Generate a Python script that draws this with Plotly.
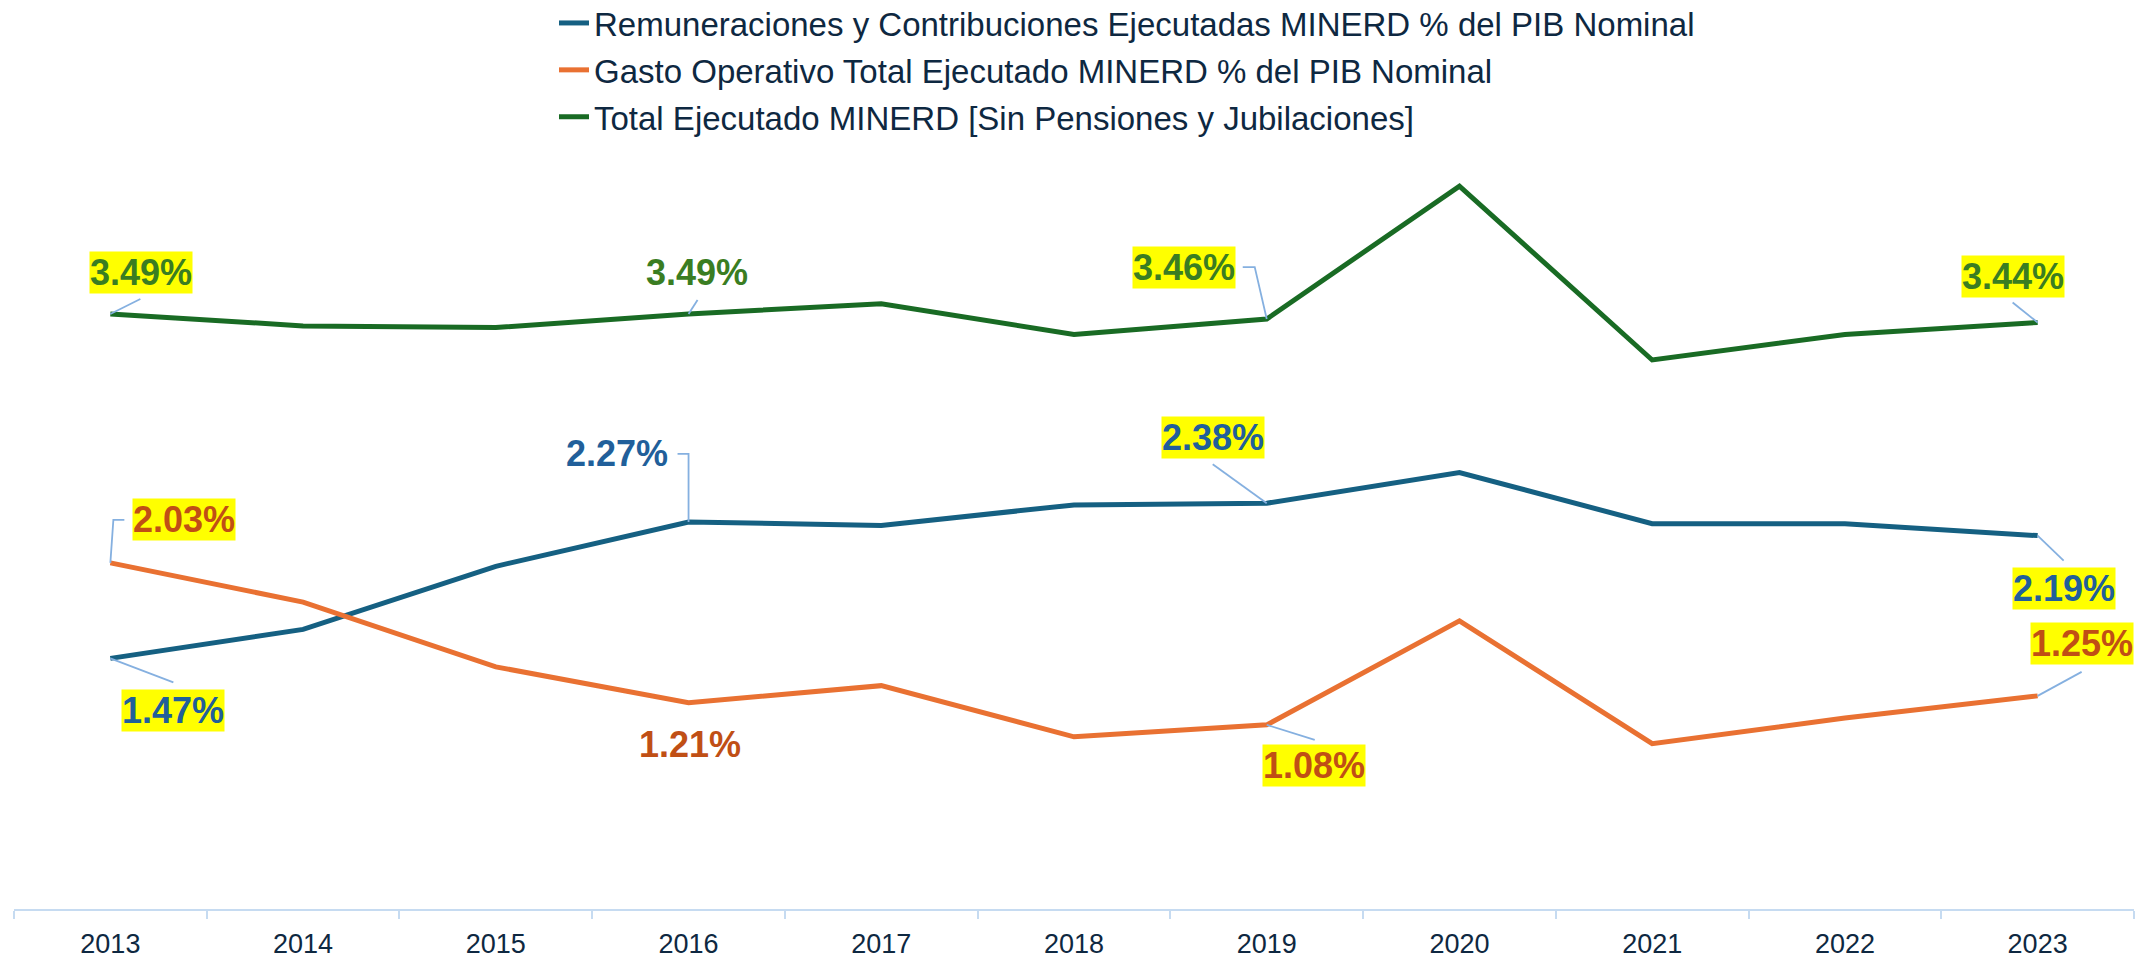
import plotly.graph_objects as go

years = ["2013", "2014", "2015", "2016", "2017", "2018", "2019", "2020", "2021", "2022", "2023"]
remuneraciones = [1.47, 1.64, 2.01, 2.27, 2.25, 2.37, 2.38, 2.56, 2.26, 2.26, 2.19]
gasto_operativo = [2.03, 1.80, 1.42, 1.21, 1.31, 1.01, 1.08, 1.69, 0.97, 1.12, 1.25]
total_ejecutado = [3.49, 3.42, 3.41, 3.49, 3.55, 3.37, 3.46, 4.24, 3.22, 3.37, 3.44]

names = [
    "Remuneraciones y Contribuciones Ejecutadas MINERD % del PIB Nominal",
    "Gasto Operativo Total Ejecutado MINERD % del PIB Nominal",
    "Total Ejecutado MINERD [Sin Pensiones y Jubilaciones]",
]

series = {"remun": remuneraciones, "gasto": gasto_operativo, "total": total_ejecutado}
line_colors = {"remun": "#156082", "gasto": "#E97132", "total": "#196B24"}
label_colors = {"remun": "#215F9A", "gasto": "#C04F15", "total": "#3A7D22"}

# label placement: (series, year, xshift px, yshift px, highlighted, leader path in px)
labels = [
    ("total", "2013", 31, 41, True, "M0,0 L30,15"),
    ("total", "2016", 8, 41, False, "M0,0 L9,14"),
    ("total", "2019", -83, 52, True, "M0,0 L-12,52 L-24,52"),
    ("total", "2023", -25, 46, True, "M0,0 L-25,20"),
    ("remun", "2013", 63, -52, True, "M0,0 L63,-24"),
    ("remun", "2016", -72, 68, False, "M0,0 L0,68 L-11,68"),
    ("remun", "2019", -54, 66, True, "M0,0 L-54,39"),
    ("remun", "2023", 26, -53, True, "M0,0 L26,-25"),
    ("gasto", "2013", 74, 43, True, "M0,0 L3,43 L14,43"),
    ("gasto", "2016", 1, -42, False, None),
    ("gasto", "2019", 47, -41, True, "M0,0 L48,-15"),
    ("gasto", "2023", 44, 52, True, "M0,0 L44,24"),
]

FONT = "Liberation Sans, Arial, sans-serif"
TOP, BOTTOM = 150, 53
PLOT_H = 962 - TOP - BOTTOM
PX_PER_UNIT = 170.5

fig = go.Figure()
for key, name in zip(["remun", "gasto", "total"], names):
    fig.add_trace(go.Scatter(
        x=years, y=series[key], mode="lines", name=name,
        legendgroup=key,
        line=dict(color=line_colors[key], width=5),
        hoverinfo="skip",
    ))

annotations = []
shapes = []
for key, yr, xs, ys, boxed, path in labels:
    i = years.index(yr)
    v = series[key][i]
    annotations.append(dict(
        x=i, y=v, xref="x", yref="y", text=f"<b>{v:.2f}%</b>", showarrow=False,
        xshift=xs, yshift=ys,
        font=dict(family=FONT, size=36, color=label_colors[key]),
        bgcolor="#FFFF00" if boxed else "rgba(0,0,0,0)", borderpad=0,
    ))
    if path:
        shapes.append(dict(
            type="path", xref="x", yref="y", xsizemode="pixel", ysizemode="pixel",
            xanchor=i, yanchor=v, path=path,
            line=dict(color="#85B0E0", width=1.8), layer="above",
        ))

fig.update_layout(
    width=2147, height=962,
    margin=dict(l=14, r=13, t=TOP, b=BOTTOM, autoexpand=False),
    paper_bgcolor="white", plot_bgcolor="white",
    font=dict(family=FONT, color="#0E2841"),
    showlegend=True,
    legend=dict(
        x=(554 - 14) / 2120, xanchor="left", y=1 + (TOP + 5) / PLOT_H, yanchor="top",
        font=dict(family=FONT, size=33, color="#0E2841"),
        tracegroupgap=1, bgcolor="rgba(0,0,0,0)",
    ),
    xaxis=dict(
        type="category", range=[-0.5, 10.5], showgrid=False,
        showline=True, linecolor="#C6DBF1", linewidth=2,
        ticks="outside", tickson="boundaries", ticklen=8, tickcolor="#C6DBF1", tickwidth=2,
        tickfont=dict(family=FONT, size=27, color="#0E2841"),
        ticklabelstandoff=10,
        fixedrange=True,
    ),
    yaxis=dict(range=[0, PLOT_H / PX_PER_UNIT], visible=False, showgrid=False,
               zeroline=False, fixedrange=True),
    annotations=annotations,
    shapes=shapes,
)

fig.write_html("out.html", post_script="document.body.style.margin='0';",
               config={"displayModeBar": False})
